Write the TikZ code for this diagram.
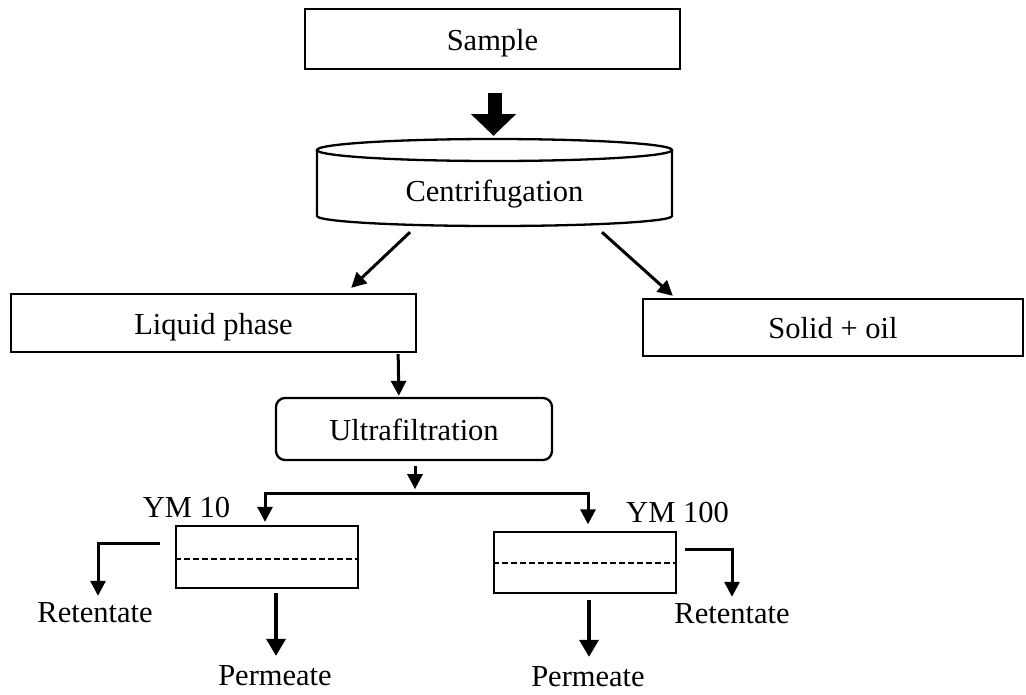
\documentclass[tikz,border=0pt]{standalone}
\usepackage{fontspec}
\setmainfont{Liberation Serif}
\usetikzlibrary{arrows.meta,calc}
\begin{document}
\begin{tikzpicture}[x=1pt,y=-1pt,
  font=\fontsize{30.5}{36}\selectfont,
  boxnode/.style={draw,line width=2.3pt,inner sep=0pt,text height=22pt,text depth=0pt},
  txt/.style={anchor=base,inner sep=0pt},
  arr/.style={line width=3pt,-{Triangle[length=15pt,width=15pt]}},
  bigarr/.style={line width=3.5pt,-{Triangle[length=17pt,width=19pt]}},
  membrane/.style={line width=2.5pt,dash pattern=on 6pt off 3pt}]
\useasboundingbox (0,0) rectangle (1026,694);

% boxes
\node[boxnode,minimum width=375pt,minimum height=60pt] (sample) at (492.5,39) {Sample};
\node[inner sep=0pt,minimum width=355pt,minimum height=87pt] (cen) at (494.5,182.5) {};
\draw[line width=2.3pt] (494.5,150) ellipse [x radius=177.5pt,y radius=11pt];
\draw[line width=2.3pt] (317,150) -- (317,216) arc[start angle=180,end angle=360,x radius=177.5pt,y radius=10pt] -- (672,150);
\node[txt] (cenlabel) at (494.5,201) {Centrifugation};

\node[boxnode,minimum width=405pt,minimum height=58pt] (liquid) at (213.5,323) {Liquid phase};
\node[boxnode,minimum width=380pt,minimum height=57pt] (solid) at (833,327.5) {Solid + oil};
\node[boxnode,rounded corners=9pt,minimum width=276pt,minimum height=62pt] (ultra) at (414,429) {Ultrafiltration};

\node[draw,line width=2.3pt,minimum width=182pt,minimum height=62pt] (f10) at (267,557) {};
\draw[membrane] (f10.west |- 0,559) -- (f10.east |- 0,559);
\node[draw,line width=2.3pt,minimum width=182pt,minimum height=61pt] (f100) at (585,562.5) {};
\draw[membrane] (f100.west |- 0,563) -- (f100.east |- 0,563);

\node[txt] (ym10) at (186.5,517) {YM 10};
\node[txt] (ym100) at (677.5,522) {YM 100};
\node[txt] (ret1) at (95,622) {Retentate};
\node[txt] (ret2) at (732,623) {Retentate};
\node[txt] (perm1) at (275,685) {Permeate};
\node[txt] (perm2) at (588,686) {Permeate};

% thick arrow
\fill ($(sample.south)+(-5,23)$) rectangle ($(sample.south)+(9,44)$);
\fill ($(sample.south)+(-21.5,44)$) -- ($(sample.south)+(23.5,44)$) -- ($(cen.north)+(-1,-3)$) -- cycle;

% connectors
\draw[arr] ($(cen.south)+(-84.5,6)$) -- ($(liquid.north east)+(-66,-5)$);
\draw[arr] ($(cen.south)+(107.5,6)$) -- ($(solid.north west)+(31,-2)$);
\draw[arr] ($(liquid.south east)+(-19,1)$) -- ($(ultra.north west)+(124,-1)$);
\draw[arr] ($(ultra.south)+(1,5)$) -- ($(ultra.south)+(1,28)$);
\coordinate (split) at ($(ultra.south)+(1,32)$);
\draw[arr] (split) -| ($(f10.north)+(-2,-3)$);
\draw[arr] (split) -| ($(f100.north)+(3,-6.5)$);
\draw[arr] ($(f10.west)+(-15,-14)$) -| ($(ret1.north)+(3,-6)$);
\draw[arr] ($(f100.east)+(8,-13.5)$) -| ($(ret2.north)+(0,-6)$);
\draw[bigarr] ($(f10.south)+(9,4)$) -- ($(perm1.north)+(1,-9)$);
\draw[bigarr] ($(f100.south)+(4,6)$) -- ($(perm2.north)+(1,-9)$);
\end{tikzpicture}
\end{document}
